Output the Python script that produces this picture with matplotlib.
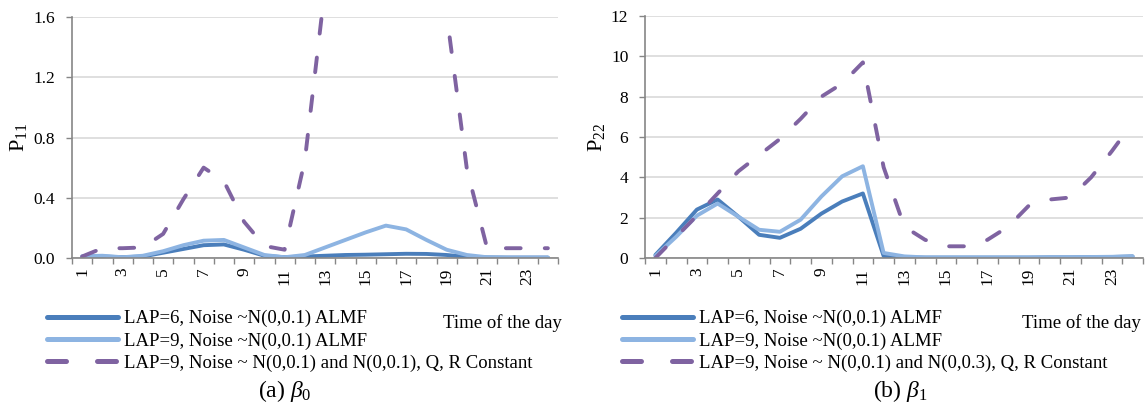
import numpy as np
import matplotlib.pyplot as plt
from matplotlib.ticker import FixedLocator, NullFormatter

plt.rcParams['font.family'] = ['Liberation Serif', 'DejaVu Serif']
plt.rcParams['mathtext.fontset'] = 'custom'
plt.rcParams['mathtext.rm'] = 'Liberation Serif'
plt.rcParams['mathtext.it'] = 'Liberation Serif:italic'

hours = np.arange(1, 25)

# beta_0 error covariance P11
b0_lap6 = [0.005, 0.01, 0.005, 0.01, 0.035, 0.06, 0.085, 0.09, 0.055, 0.015, 0.005, 0.01,
           0.015, 0.02, 0.022, 0.025, 0.028, 0.027, 0.02, 0.008, 0.004, 0.003, 0.003, 0.003]
b0_lap9 = [0.012, 0.015, 0.005, 0.015, 0.045, 0.085, 0.115, 0.12, 0.07, 0.02, 0.005, 0.02,
           0.07, 0.12, 0.17, 0.215, 0.19, 0.12, 0.055, 0.02, 0.005, 0.003, 0.003, 0.003]
b0_const = [0.01, 0.065, 0.065, 0.07, 0.16, 0.39, 0.6, 0.51, 0.24, 0.08, 0.055, 0.65,
            1.8, 2.6, 3.0, 3.1, 2.8, 2.2, 1.62, 0.59, 0.065, 0.065, 0.065, 0.065]

# beta_1 error covariance P22
b1_lap6 = [0.15, 1.25, 2.4, 2.9, 2.05, 1.15, 1.0, 1.45, 2.2, 2.8, 3.2, 0.1,
           0.03, 0.02, 0.02, 0.02, 0.02, 0.02, 0.02, 0.03, 0.03, 0.04, 0.05, 0.08]
b1_lap9 = [0.1, 1.05, 2.1, 2.7, 2.05, 1.4, 1.3, 1.9, 3.05, 4.05, 4.55, 0.25,
           0.08, 0.03, 0.03, 0.03, 0.03, 0.03, 0.03, 0.04, 0.04, 0.05, 0.06, 0.08]
b1_const = [0.0, 1.05, 2.1, 3.2, 4.3, 5.1, 5.9, 6.9, 8.0, 8.65, 9.7, 4.5,
            1.55, 0.9, 0.58, 0.58, 0.9, 1.55, 2.6, 2.9, 3.0, 4.0, 5.3, 6.7]

labels_a = ['LAP=6, Noise ~N(0,0.1) ALMF',
            'LAP=9, Noise ~N(0,0.1) ALMF',
            'LAP=9, Noise ~ N(0,0.1) and N(0,0.1), Q, R Constant']
labels_b = ['LAP=6, Noise ~N(0,0.1) ALMF',
            'LAP=9, Noise ~N(0,0.1) ALMF',
            'LAP=9, Noise ~ N(0,0.1) and N(0,0.3), Q, R Constant']

c_dark = '#4A7EBB'
c_light = '#8DB4E2'
c_purple = '#7F63A1'
W, H = 1148, 405

fig = plt.figure(figsize=(W / 100, H / 100), dpi=100)


def panel(rect, s1, s2, s3, ymax, ystep, ylab, labels, leg_x, time_x, cap_x, caption):
    ax = fig.add_axes([rect[0] / W, 1 - rect[3] / H, (rect[2] - rect[0]) / W, (rect[3] - rect[1]) / H])
    x = np.arange(len(hours))
    kw = dict(lw=2.8, solid_capstyle='round', solid_joinstyle='round')
    h1, = ax.plot(x, s1, color=c_dark, **kw)
    h2, = ax.plot(x, s2, color=c_light, **kw)
    h3, = ax.plot(x, s3, color=c_purple, lw=2.8, dashes=(3.8, 6.2),
                  dash_capstyle='round', dash_joinstyle='round')
    ax.set_xlim(-0.5, len(hours) - 0.5)
    ax.set_ylim(0, ymax)
    ax.set_yticks(np.arange(0, ymax + ystep / 2, ystep))
    ax.yaxis.grid(True, color='#D9D9D9', lw=1.2)
    ax.set_axisbelow(True)
    ax.xaxis.set_major_locator(FixedLocator(x[::2]))
    ax.set_xticklabels([str(h) for h in hours[::2]], rotation=90, va='top', ha='center')
    ax.xaxis.set_minor_locator(FixedLocator(np.arange(-0.5, len(hours), 1)))
    ax.xaxis.set_minor_formatter(NullFormatter())
    ax.tick_params(axis='x', which='major', length=0, pad=7, labelsize=12.5)
    ax.tick_params(axis='x', which='minor', length=4, width=1, color='#868686')
    ax.tick_params(axis='y', length=4, width=1, color='#868686', pad=8, labelsize=12.5)
    for side in ['top', 'right']:
        ax.spines[side].set_visible(False)
    for side in ['left', 'bottom']:
        ax.spines[side].set_color('#868686')
        ax.spines[side].set_linewidth(1.2)
    ax.set_ylabel(ylab, fontsize=16, labelpad=3)

    leg = fig.legend([h1, h2, h3], labels, loc='upper left',
                     bbox_to_anchor=(leg_x / W, 1 - 310 / H), frameon=False,
                     fontsize=13.5, handlelength=3.8, handletextpad=0.3,
                     labelspacing=0.26, borderpad=0, borderaxespad=0)
    for ln in leg.get_lines():
        ln.set_linewidth(3.6)
    fig.text(time_x / W, 1 - 323 / H, 'Time of the day', fontsize=13.5, va='center', ha='left')
    fig.text(cap_x / W, 1 - 391 / H, caption, fontsize=17, va='center', ha='center')
    return ax


panel((72, 17, 558, 258), b0_lap6, b0_lap9, b0_const, 1.6, 0.4, r'P$_{11}$', labels_a,
      47, 443, 285, r'(a) $\beta_{\mathit{0}}$')
panel((645, 16, 1143, 258), b1_lap6, b1_lap9, b1_const, 12, 2, r'P$_{22}$', labels_b,
      622, 1022, 900, r'(b) $\beta_{\mathit{1}}$')

fig.savefig('out.png', dpi=100)
